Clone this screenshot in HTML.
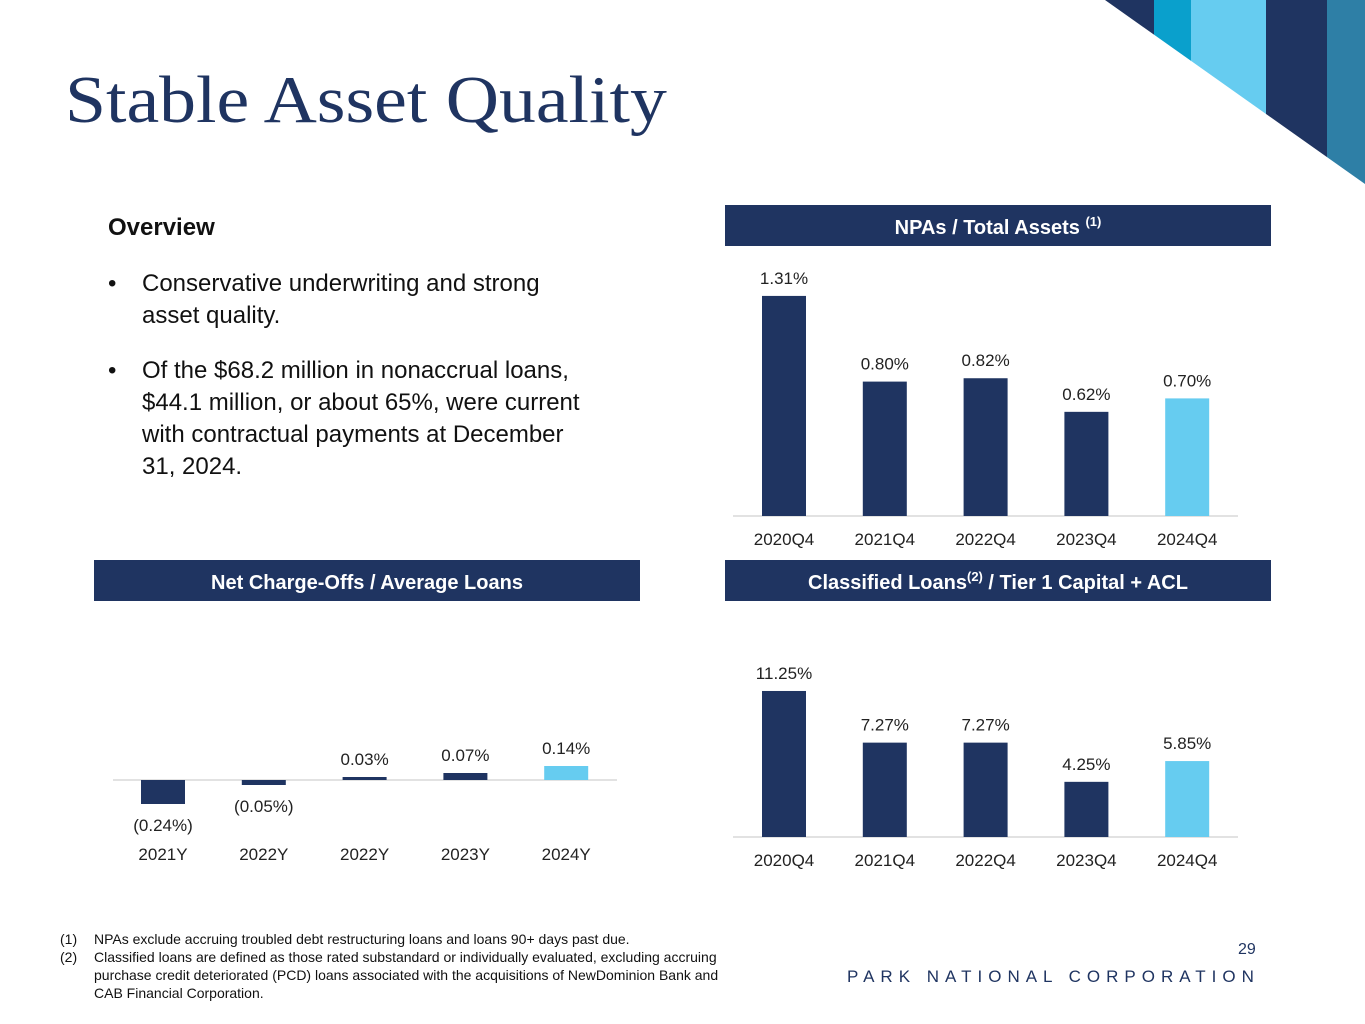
<!DOCTYPE html>
<html><head><meta charset="utf-8"><style>
body{margin:0;width:1365px;height:1024px;position:relative;background:#fff;font-family:"Liberation Sans",sans-serif;overflow:hidden}
.abs{position:absolute}
.hdr{position:absolute;background:#1f3461;color:#fff;font-weight:bold;font-size:20px;text-align:center;line-height:41px;height:41px}
.hdr span.t{position:relative;top:3px}
.hdr sup{font-size:13px;vertical-align:baseline;position:relative;top:-8px;line-height:0}
</style></head><body>
<svg class="abs" style="left:0;top:0" width="1365" height="190">
<defs><clipPath id="c"><polygon points="1105,0 1365,0 1365,184"/></clipPath></defs>
<g clip-path="url(#c)">
<rect x="1090" y="0" width="64" height="190" fill="#1f3461"/>
<rect x="1154" y="0" width="37" height="190" fill="#0aa0cc"/>
<rect x="1191" y="0" width="75" height="190" fill="#66ccf0"/>
<rect x="1266" y="0" width="61" height="190" fill="#1f3461"/>
<rect x="1327" y="0" width="38" height="190" fill="#2e7fa6"/>
</g></svg>
<div class="abs" style="left:65px;top:62px;font-family:'Liberation Serif',serif;font-size:67px;color:#1f3461;transform:scaleX(1.1);transform-origin:0 0;white-space:nowrap">Stable Asset Quality</div>
<div class="abs" style="left:108px;top:214px;font-size:24px;font-weight:bold;color:#111">Overview</div>
<div class="abs" style="left:108px;top:268px;width:480px;font-size:24px;line-height:32px;color:#111">
<div style="display:flex"><span style="width:34px;flex:none">•</span><span>Conservative underwriting and strong asset quality.</span></div>
<div style="display:flex;margin-top:23px"><span style="width:34px;flex:none">•</span><span>Of the $68.2 million in nonaccrual loans, $44.1 million, or about 65%, were current with contractual payments at December 31, 2024.</span></div>
</div>
<div class="hdr" style="left:725px;top:205px;width:546px"><span class="t">NPAs / Total Assets <sup>(1)</sup></span></div>
<div class="hdr" style="left:94px;top:560px;width:546px"><span class="t">Net Charge-Offs / Average Loans</span></div>
<div class="hdr" style="left:725px;top:560px;width:546px"><span class="t">Classified Loans<sup>(2)</sup> / Tier 1 Capital + ACL</span></div>
<svg id="charts" class="abs" style="left:0;top:0" width="1365" height="1024"></svg>
<div class="abs" style="left:60px;top:930px;font-size:14px;line-height:18px;color:#111;width:718px">
<div style="display:flex"><span style="width:34px;flex:none">(1)</span><span>NPAs exclude accruing troubled debt restructuring loans and loans 90+ days past due.</span></div>
<div style="display:flex"><span style="width:34px;flex:none">(2)</span><span>Classified loans are defined as those rated substandard or individually evaluated, excluding accruing purchase credit deteriorated (PCD) loans associated with the acquisitions of NewDominion Bank and<br>CAB Financial Corporation.</span></div>
</div>
<div class="abs" style="left:1238px;top:941px;font-size:16px;color:#1f3461">29</div>
<div class="abs" style="left:847px;top:967px;font-size:17px;letter-spacing:6px;color:#1f3461;white-space:nowrap">PARK NATIONAL CORPORATION</div>
<script>
const npaCats=["2020Q4","2021Q4","2022Q4","2023Q4","2024Q4"];
const npaVals=[1.31,0.80,0.82,0.62,0.70];
const ncoCats=["2021Y","2022Y","2022Y","2023Y","2024Y"];
const ncoVals=[-0.24,-0.05,0.03,0.07,0.14];
const clsCats=["2020Q4","2021Q4","2022Q4","2023Q4","2024Q4"];
const clsVals=[11.25,7.27,7.27,4.25,5.85];
const svg=document.getElementById('charts');
const NS="http://www.w3.org/2000/svg";
function el(t,a){const e=document.createElementNS(NS,t);for(const k in a)e.setAttribute(k,a[k]);svg.appendChild(e);return e;}
function fmt(v){const s=Math.abs(v).toFixed(2)+"%";return v<0?"("+s+")":s;}
function chart(name,cats,vals,x0,base,scale,lineX1,lineX2,catY){
  const ln=el('line',{x1:lineX1,x2:lineX2,y1:base,y2:base,stroke:'#d9d9d9','stroke-width':1.5});
  
  
  cats.forEach((c,i)=>{
    const cx=x0+i*100.8, v=vals[i], h=Math.abs(v)*scale;
    const y=v>=0?base-h:base;
    const r=el('rect',{x:cx-22,y:y,width:44,height:Math.max(h,1),fill:i==cats.length-1?'#66ccf0':'#1f3461'});
    
    
    const ty=v>=0?base-h-12:base+h+27;
    const t=el('text',{x:cx,y:ty,'text-anchor':'middle','font-size':17,fill:'#222','font-family':'Liberation Sans'});
    t.textContent=fmt(v);
    
    
    const ct=el('text',{x:cx,y:catY,'text-anchor':'middle','font-size':17,fill:'#222','font-family':'Liberation Sans'});
    ct.textContent=c;
    
    
  });
}
chart('npa',npaCats,npaVals,784,516,168,733,1238,545);
chart('nco',ncoCats,ncoVals,163,780,100,113,617,860);
chart('classified',clsCats,clsVals,784,837,12.98,733,1238,866);
</script>
</body></html>
